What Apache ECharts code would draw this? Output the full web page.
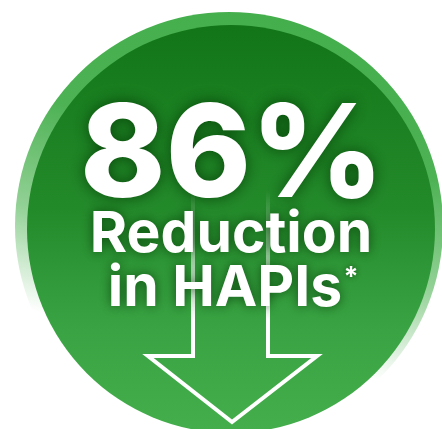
<!DOCTYPE html>
<html>
<head>
<meta charset="utf-8">
<script src="https://cdn.jsdelivr.net/npm/echarts@6/dist/echarts.min.js"></script>
<style>
  html, body { margin: 0; padding: 0; background: #fff; }
  #main { width: 442px; height: 429px; }
</style>
</head>
<body>
<div id="main"></div>
<script>
// values shown in the badge
var reductionPct = [86];
var captionLines = ['Reduction', 'in HAPIs'];
var footnoteMark = ['*'];

var chart = echarts.init(document.getElementById('main'));

var fontFamily = 'Inter, "Noto Sans", sans-serif';
var shadow = 'rgba(0,45,0,0.7)';

var option = {
  backgroundColor: '#ffffff',
  animation: false,
  graphic: [
    // outer ring, fades to white towards the bottom
    {
      type: 'circle',
      shape: { cx: 229, cy: 226, r: 214 },
      style: {
        fill: {
          type: 'linear', x: 0.6, y: 0, x2: 0.4, y2: 1,
          colorStops: [
            { offset: 0, color: '#44ae4c' },
            { offset: 0.3, color: '#4db254' },
            { offset: 0.55, color: '#93d196' },
            { offset: 0.78, color: '#ffffff' },
            { offset: 1, color: '#ffffff' }
          ]
        }
      },
      z: 1
    },
    // inner disc
    {
      type: 'circle',
      shape: { cx: 231, cy: 229, r: 204 },
      style: {
        fill: {
          type: 'linear', x: 0, y: 0, x2: 0, y2: 1,
          colorStops: [
            { offset: 0, color: '#127618' },
            { offset: 0.45, color: '#238a2a' },
            { offset: 0.75, color: '#3aa444' },
            { offset: 1, color: '#44ae4c' }
          ]
        }
      },
      z: 2
    },
    // down arrow outline
    {
      type: 'polyline',
      shape: {
        points: [[193, 190], [193, 356], [148, 356], [232, 422], [317, 356], [268, 356], [268, 190]]
      },
      style: {
        fill: null,
        lineWidth: 4,
        lineJoin: 'miter',
        stroke: {
          type: 'linear', x: 0, y: 190, x2: 0, y2: 320, global: true,
          colorStops: [
            { offset: 0, color: 'rgba(255,255,255,0)' },
            { offset: 0.5, color: 'rgba(255,255,255,0.5)' },
            { offset: 1, color: 'rgba(255,255,255,1)' }
          ]
        }
      },
      z: 3
    },
    {
      type: 'text',
      x: 232, y: 158,
      style: {
        text: reductionPct[0] + '%',
        fill: '#ffffff',
        font: '800 129px ' + fontFamily,
        align: 'center', verticalAlign: 'middle',
        textShadowColor: shadow, textShadowBlur: 16
      },
      z: 5
    },
    {
      type: 'text',
      x: 231, y: 235,
      style: {
        text: captionLines[0],
        fill: '#ffffff',
        font: '700 57px ' + fontFamily,
        align: 'center', verticalAlign: 'middle',
        textShadowColor: shadow, textShadowBlur: 12
      },
      z: 5
    },
    {
      type: 'text',
      x: 225, y: 289,
      style: {
        text: captionLines[1],
        fill: '#ffffff',
        font: '700 57px ' + fontFamily,
        align: 'center', verticalAlign: 'middle',
        textShadowColor: shadow, textShadowBlur: 12
      },
      z: 5
    },
    {
      type: 'text',
      x: 351, y: 278,
      style: {
        text: footnoteMark[0],
        fill: '#ffffff',
        font: '700 27px ' + fontFamily,
        align: 'center', verticalAlign: 'middle',
        textShadowColor: shadow, textShadowBlur: 6
      },
      z: 5
    }
  ]
};

chart.setOption(option);
</script>
</body>
</html>
